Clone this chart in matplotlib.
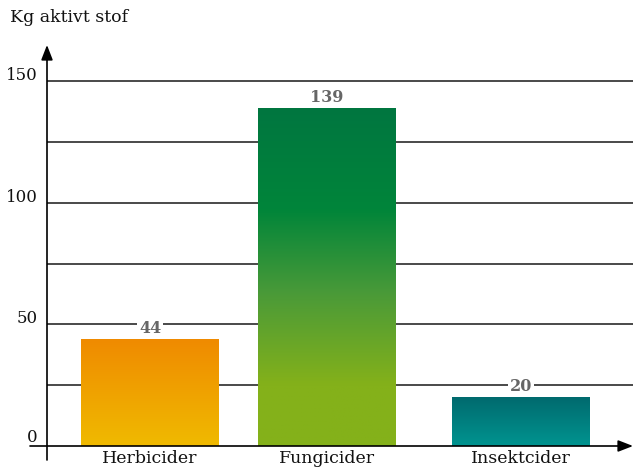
"""Kg aktivt stof per middeltype - søjlediagram med gradient."""
import matplotlib.pyplot as plt
import numpy as np
from matplotlib.colors import LinearSegmentedColormap

categories = ["Herbicider", "Fungicider", "Insektcider"]
values = [44, 139, 20]
yticks = [0, 50, 100, 150]
gridlines = [25, 50, 75, 100, 125, 150]
ylabel = "Kg aktivt stof"

# layout (pixel-like x units, axis spans 47..633 px)
xpos = [103, 280, 474]
bar_w = 138
gradients = [
    [(0.0, "#f08a00"), (1.0, "#efba00")],
    [(0.0, "#007640"), (0.3, "#00853a"), (0.55, "#4a9a38"),
     (0.82, "#84b11a"), (1.0, "#84b11a")],
    [(0.0, "#006a6e"), (1.0, "#009490")],
]

plt.rcParams["font.family"] = ["DejaVu Serif"]

fig = plt.figure(figsize=(6.33, 4.75), dpi=100)
ax = fig.add_axes([47 / 633, 29 / 475, 586 / 633, 401 / 475])
ymax = 401 / 2.433
ax.set_xlim(0, 586)
ax.set_ylim(0, ymax)
for s in ax.spines.values():
    s.set_visible(False)
ax.set_xticks([])
ax.set_yticks([])

for g in gridlines:
    ax.axhline(g, color="#2a2a2a", lw=1.2, zorder=1)

bars = ax.bar(xpos, values, width=bar_w, zorder=2, color="none")
for b, stops, v in zip(bars, gradients, values):
    cmap = LinearSegmentedColormap.from_list("g", stops)
    grad = np.linspace(0, 1, 256).reshape(-1, 1)
    x0 = b.get_x()
    im = ax.imshow(grad, cmap=cmap, aspect="auto", origin="upper",
                   extent=[x0, x0 + bar_w, 0, v], zorder=2)
    im.set_clip_path(b)
    ax.annotate(str(v), (b.get_x() + bar_w / 2, v), xytext=(0, 1.5),
                textcoords="offset points", ha="center", va="bottom",
                fontsize=11.5, fontweight="bold", color="#666666",
                bbox=dict(boxstyle="square,pad=0.1", fc="white", ec="none"),
                zorder=4)

ax.set_xlim(0, 586)
ax.set_ylim(0, ymax)

# axes with arrows
ax.annotate("", xy=(1.0, 0), xytext=(-17 / 586, 0),
            xycoords=("axes fraction", "data"),
            arrowprops=dict(arrowstyle="-|>,head_length=0.9,head_width=0.35",
                            color="black", lw=1.2, shrinkA=0, shrinkB=0),
            annotation_clip=False, zorder=5)
ax.annotate("", xy=(0, 1.0), xytext=(0, -14 / 401),
            xycoords=("data", "axes fraction"),
            arrowprops=dict(arrowstyle="-|>,head_length=0.9,head_width=0.35",
                            color="black", lw=1.2, shrinkA=0, shrinkB=0),
            annotation_clip=False, zorder=5)

for t in yticks:
    ax.annotate(str(t), (0, t), xytext=(-6.5, 4 if t else 6),
                textcoords="offset points", ha="right", va="center",
                fontsize=12, color="#111111", annotation_clip=False)

for x, c in zip(xpos, categories):
    ax.annotate(c, (x, 0), xytext=(0, -3), textcoords="offset points",
                ha="center", va="top", fontsize=12.5, color="#111111",
                annotation_clip=False)

fig.text(10 / 633, 1 - 18 / 475, ylabel, ha="left", va="center",
         fontsize=12.5, color="#111111")

fig.savefig("out.png", dpi=100)
